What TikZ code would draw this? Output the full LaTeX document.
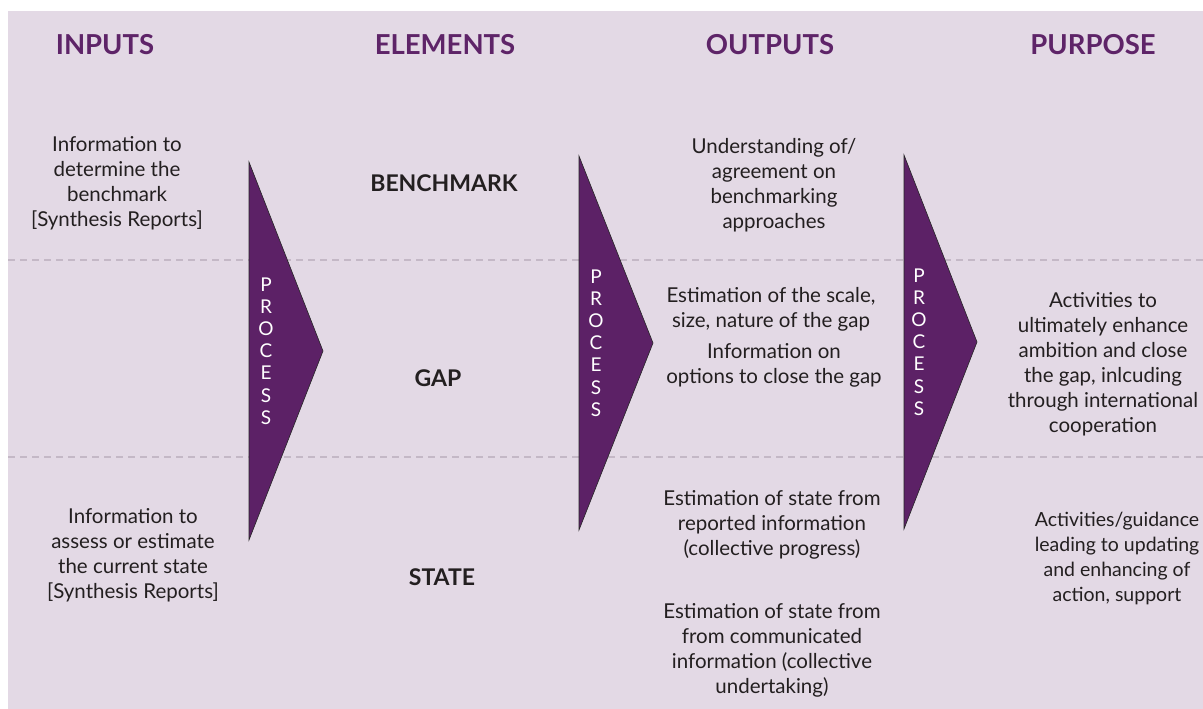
\documentclass[tikz,border=0pt]{standalone}
\usepackage{fontspec}
\setmainfont{Lato}
\definecolor{bgc}{HTML}{E3D9E5}
\definecolor{purp}{HTML}{5C2166}
\definecolor{hdr}{HTML}{5E2468}
\definecolor{txt}{HTML}{231F20}
\definecolor{dash}{HTML}{C4B8C6}
\begin{document}
\begin{tikzpicture}[x=1pt,y=-1pt,
  hdrlbl/.style={text=hdr,font=\fontsize{27.5}{30}\selectfont\bfseries,anchor=center,inner sep=0pt},
  body/.style={text=txt,font=\fontsize{20.5}{25}\selectfont,align=center,anchor=center,inner sep=0pt},
  elem/.style={text=txt,font=\fontsize{23}{26}\selectfont\bfseries,anchor=center,inner sep=0pt},
  arrowtri/.style={fill=purp,draw=black!85,line width=0.6pt},
  proc/.style={text=white,font=\fontsize{19}{22.2}\selectfont,align=center,anchor=center,inner sep=0pt},
  sep/.style={draw=dash,line width=2.2pt,dash pattern=on 7pt off 5pt}
]
\useasboundingbox (0,0) rectangle (1203,709);
\fill[bgc] (8,11) rectangle (1203,709);
% separators
\draw[sep] (8,260) -- (1203,260);
\draw[sep] (8,457) -- (1203,457);
% headers
\node[hdrlbl] (hin) at (105,45) {INPUTS};
\node[hdrlbl] (hel) at (445,45) {ELEMENTS};
\node[hdrlbl] (hout) at (770,45) {OUTPUTS};
\node[hdrlbl] (hpur) at (1093,45) {PURPOSE};
% triangles
\draw[arrowtri] (249,162) -- (323,351) -- (249,540) -- cycle;
\draw[arrowtri] (579,156) -- (653,343) -- (579,530) -- cycle;
\draw[arrowtri] (904,155) -- (977,342) -- (904,529) -- cycle;
\node[proc] (p1) at (266,351) {P\\R\\O\\C\\E\\S\\S};
\node[proc] (p2) at (596,343) {P\\R\\O\\C\\E\\S\\S};
\node[proc] (p3) at (919,342) {P\\R\\O\\C\\E\\S\\S};
% inputs
\node[body] (in1) at (117,183) {Information to\\determine the\\benchmark\\{[Synthesis Reports]}};
\node[body] (in2) at (133,555) {Information to\\assess or estimate\\the current state\\{[Synthesis Reports]}};
% elements
\node[elem] (eb) at (444,183) {BENCHMARK};
\node[elem] (eg) at (438,378) {GAP};
\node[elem] (es) at (442,577) {STATE};
% outputs
\node[body] (o1) at (774,185) {Understanding of/\\agreement on\\benchmarking\\approaches};
\node[body] (o2) at (771,309) {Estimation of the scale,\\size, nature of the gap};
\node[body] (o3) at (774,365) {Information on\\options to close the gap};
\node[body] (o4) at (772,525) {Estimation of state from\\reported information\\(collective progress)};
\node[body] (o5) at (772,650) {Estimation of state from\\from communicated\\information (collective\\undertaking)};
% purpose
\node[body] (u1) at (1103,364) {Activities to\\ultimately enhance\\ambition and close\\the gap, inlcuding\\through international\\cooperation};
\node[body,font=\fontsize{19.5}{25}\selectfont] (u2) at (1117,558) {Activities/guidance\\leading to updating\\and enhancing of\\action, support};
\end{tikzpicture}
\end{document}
